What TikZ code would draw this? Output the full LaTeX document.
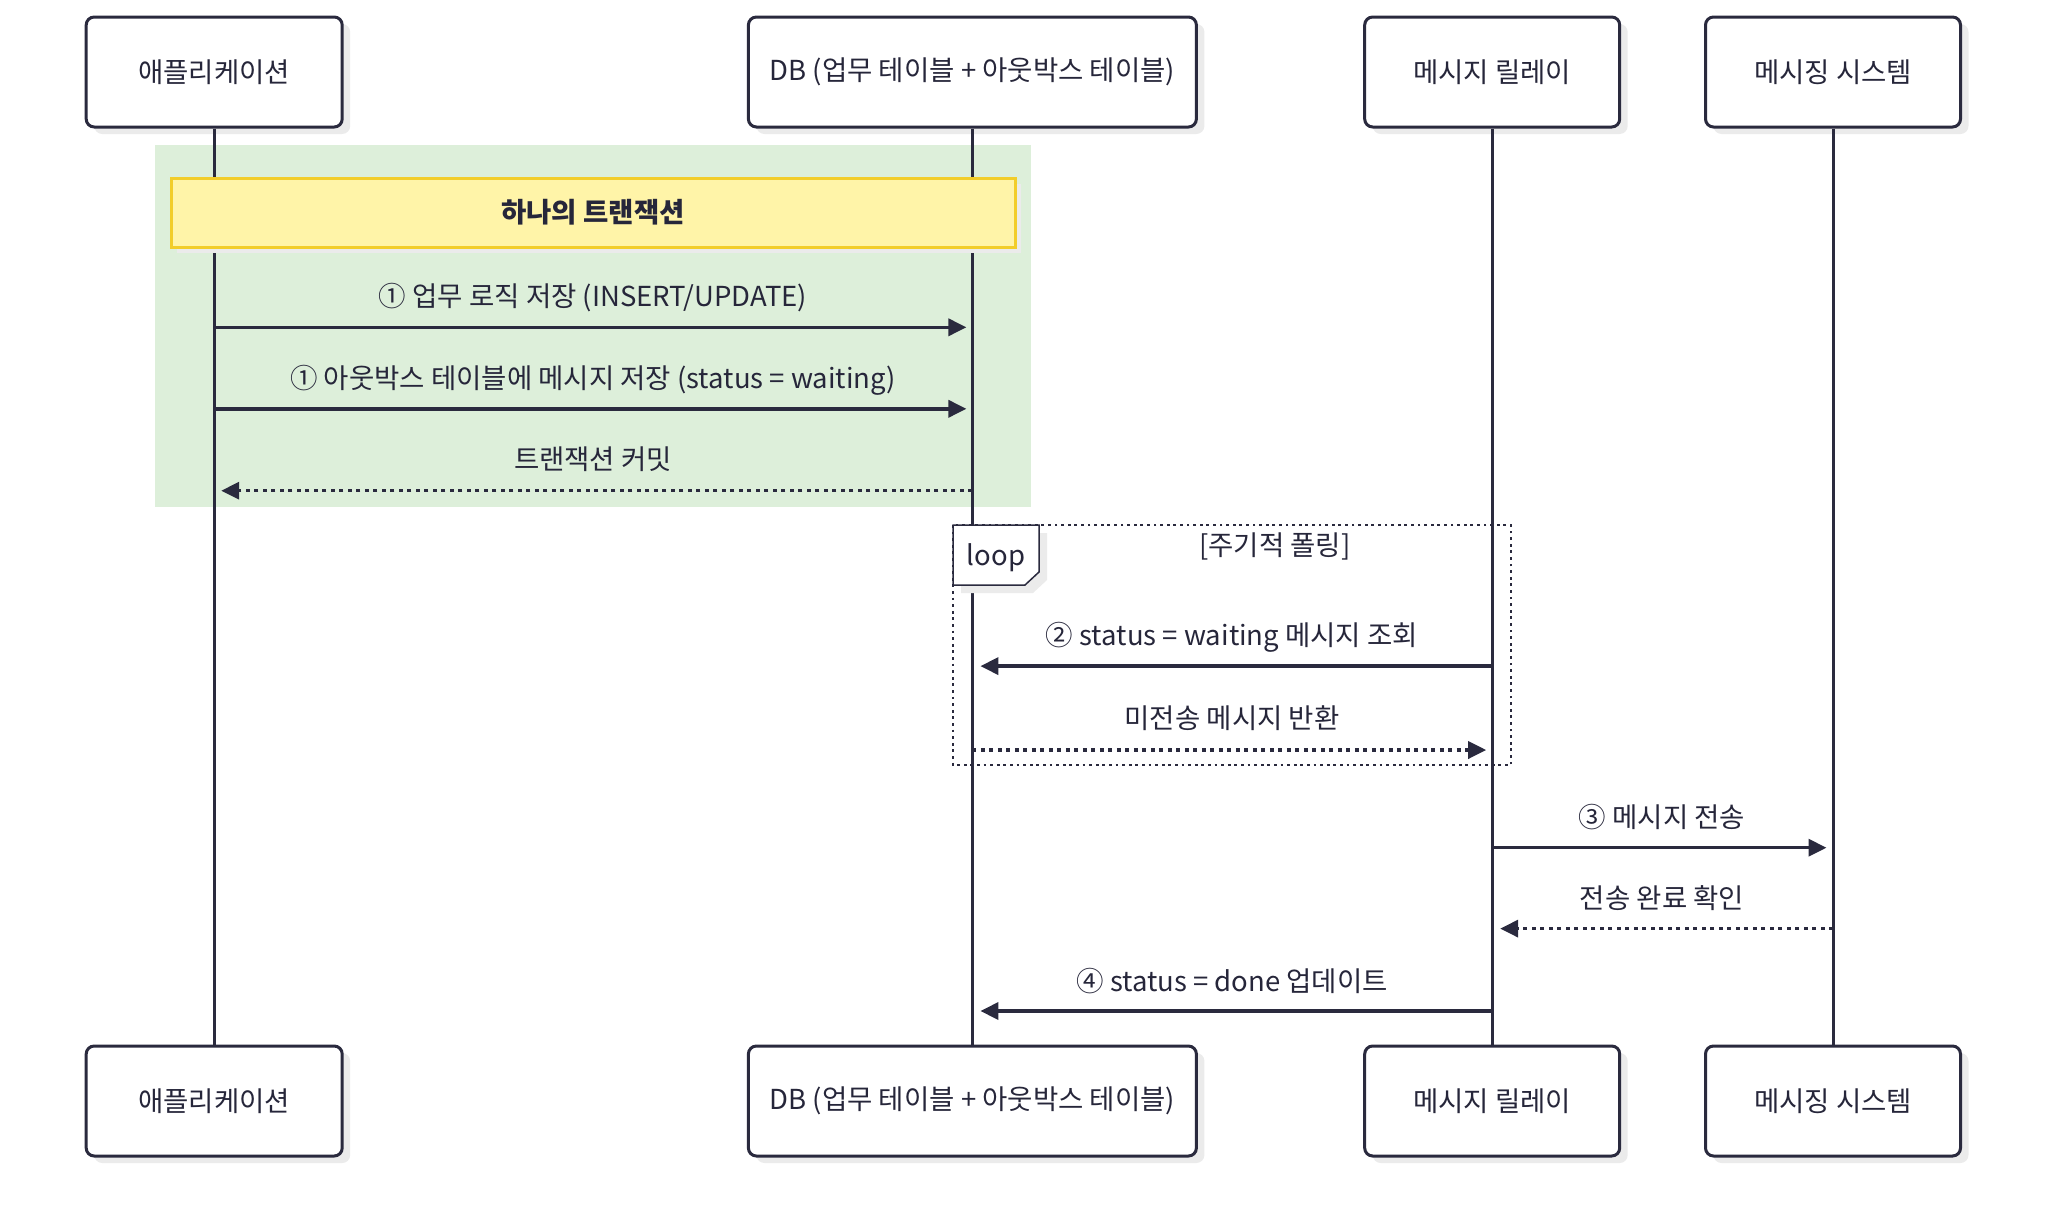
\documentclass[tikz,border=0pt]{standalone}
\usepackage{fontspec}
\setmainfont{Noto Sans CJK KR}
\usetikzlibrary{arrows.meta,calc,shadows}
\definecolor{ink}{HTML}{2A2A3E}
\definecolor{txt}{HTML}{26263A}
\definecolor{shadowgray}{HTML}{EBEBEB}
\definecolor{txgreen}{HTML}{DDEFDA}
\definecolor{notefill}{HTML}{FFF4A8}
\definecolor{noteline}{HTML}{F2CD2A}
\begin{document}
\begin{tikzpicture}[x=1pt,y=-1pt,
  font=\fontsize{27.5}{32}\selectfont, text=txt,
  actor/.style={draw=ink, line width=3pt, rounded corners=8pt, fill=white,
    minimum height=110pt, inner sep=0pt,
    drop shadow={shadow xshift=8pt, shadow yshift=-7pt, fill=shadowgray, opacity=1}},
  life/.style={draw=ink, line width=3pt},
  msg/.style={draw=ink, line width=3.5pt, -{Triangle[length=18pt,width=17pt]}},
  reply/.style={msg, dash pattern=on 4pt off 4.5pt},
  lbl/.style={inner sep=0pt, anchor=center},
  notebox/.style={draw=noteline, fill=notefill, line width=3pt, inner sep=0pt,
    drop shadow={shadow xshift=6pt, shadow yshift=-6pt, fill=black!8, opacity=1}},
  loopframe/.style={draw=ink, line width=2.8pt, dash pattern=on 2.8pt off 3.8pt},
  looptag/.style={draw=ink, line width=1.5pt, fill=white},
]
\useasboundingbox (0,0) rectangle (2048,1227);

% transaction background
\fill[txgreen] (155,145) rectangle (1030.5,507);

% actors
\node[actor, minimum width=256pt] (app)  at (214.2,72) {애플리케이션};
\node[actor, minimum width=448pt] (db)   at (972.4,72) {DB (업무 테이블 + 아웃박스 테이블)};
\node[actor, minimum width=255pt] (rel)  at (1492.2,72) {메시지 릴레이};
\node[actor, minimum width=255pt] (ms)   at (1833,72) {메시징 시스템};
\node[actor, minimum width=256pt] (app2) at (214.2,1101) {애플리케이션};
\node[actor, minimum width=448pt] (db2)  at (972.4,1101) {DB (업무 테이블 + 아웃박스 테이블)};
\node[actor, minimum width=255pt] (rel2) at (1492.2,1101) {메시지 릴레이};
\node[actor, minimum width=255pt] (ms2)  at (1833,1101) {메시징 시스템};

% lifelines
\draw[life] (app.south) -- (app2.north);
\draw[life] (db.south) -- (db2.north);
\draw[life] (rel.south) -- (rel2.north);
\draw[life] (ms.south) -- (ms2.north);

% note
\node[notebox, minimum width=844pt, minimum height=69pt] (note) at (593,212.5) {};
\node[lbl, font=\fontsize{27.5}{32}\selectfont\bfseries] (notetxt) at (note.center) {하나의 트랜잭션};

% row coordinates
\coordinate (r1) at (0,327.3);
\coordinate (r2) at (0,408.8);
\coordinate (r3) at (0,490.7);
\coordinate (r4) at (0,666.1);
\coordinate (r5) at (0,750);
\coordinate (r6) at (0,847.7);
\coordinate (r7) at (0,928.6);
\coordinate (r8) at (0,1011);

% transaction messages
\node[lbl] (l1) at (593,298) {① 업무 로직 저장 (INSERT/UPDATE)};
\draw[msg, shorten >=6pt] (app |- r1) -- (db |- r1);
\node[lbl] (l2) at (593,380) {① 아웃박스 테이블에 메시지 저장 (status = waiting)};
\draw[msg, shorten >=6pt] (app |- r2) -- (db |- r2);
\node[lbl] (l3) at (593,459.5) {트랜잭션 커밋};
\draw[reply, shorten >=7pt] (db |- r3) -- (app |- r3);

% loop frame
\draw[loopframe] (953,525) rectangle (1511,765);
\fill[shadowgray] (961,533) -- (1047,533) -- (1047,580) -- (1033,593) -- (961,593) -- cycle;
\draw[looptag] (953,525) -- (1039,525) -- (1039,572) -- (1025,585) -- (953,585) -- cycle;
\node[lbl] (looplbl) at (996,557.5) {loop};
\node[lbl] (loopcond) at (1274.8,546.5) {[주기적 폴링]};

% loop messages
\node[lbl] (l4) at (1232,637.5) {② status = waiting 메시지 조회};
\draw[msg, shorten >=8pt] (rel |- r4) -- (db |- r4);
\node[lbl] (l5) at (1232,718) {미전송 메시지 반환};
\draw[reply, shorten >=6pt] (db |- r5) -- (rel |- r5);

% after loop
\node[lbl] (l6) at (1662,817.5) {③ 메시지 전송};
\draw[msg, shorten >=6.5pt] (rel |- r6) -- (ms |- r6);
\node[lbl] (l7) at (1662,898.5) {전송 완료 확인};
\draw[reply, shorten >=8pt] (ms |- r7) -- (rel |- r7);
\node[lbl] (l8) at (1232,981) {④ status = done 업데이트};
\draw[msg, shorten >=8pt] (rel |- r8) -- (db |- r8);
\end{tikzpicture}
\end{document}
